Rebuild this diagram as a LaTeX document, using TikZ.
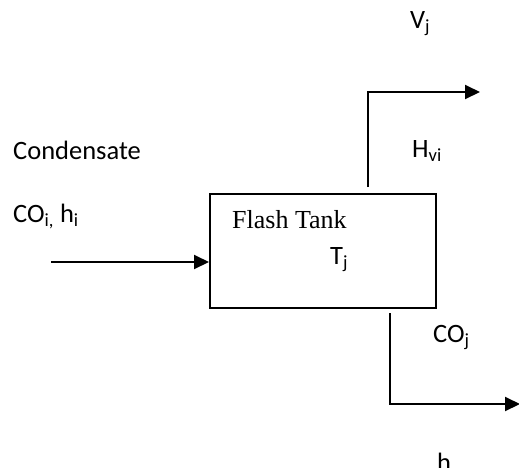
\documentclass[tikz,border=0pt]{standalone}
\usepackage{fontspec}
\setmainfont{Carlito}
\newfontfamily\tankfont{Liberation Serif}
\usetikzlibrary{arrows.meta, positioning, calc}
\tikzset{
  tank/.style={rectangle, draw=black, line width=2pt, minimum width=226pt, minimum height=114pt, inner sep=0pt},
  stream/.style={line width=2pt, -{Triangle[length=15pt,width=14pt]}},
  tag/.style={anchor=base west, inner sep=0pt, font=\fontsize{26.5}{30}\selectfont}
}
\begin{document}
\begin{tikzpicture}[x=1pt, y=-1pt]
  \useasboundingbox (0,0) rectangle (519,467);
  \clip (0,0) rectangle (519,467);

  % tank and its labels
  \node (tank) [tank] at (323,251) {};
  \node (name) [tag, font=\tankfont\fontsize{26}{30}\selectfont] at (232,228) {Flash Tank};
  \node (temp) [tag] at (330,264) {T\textsubscript{j}};

  % stream labels
  \node (cond) [tag] at (13,159) {Condensate};
  \node (feedlbl) [tag] at (13,222) {CO\textsubscript{i,} h\textsubscript{i}};
  \node (vap) [tag] at (410,28) {V\textsubscript{j}};
  \node (hvap) [tag] at (412,157) {H\textsubscript{vi}};
  \node (liq) [tag] at (433,342) {CO\textsubscript{j}};
  \node (hliq) [tag] at (437,471) {h};

  % free ends of the pipes
  \coordinate (feed) at (51,262);
  \coordinate (vtop) at (368,92);
  \coordinate (vend) at (480,92);
  \coordinate (lbot) at (390,404);
  \coordinate (lend) at (520,404);

  % streams
  \draw [stream] (feed) -- (feed -| tank.west);
  \draw [stream] ($(tank.north -| vtop)+(0,-6)$) -- (vtop) -- (vend);
  \draw [stream] ($(tank.south -| lbot)+(0,4)$) -- (lbot) -- (lend);

\end{tikzpicture}
\end{document}
